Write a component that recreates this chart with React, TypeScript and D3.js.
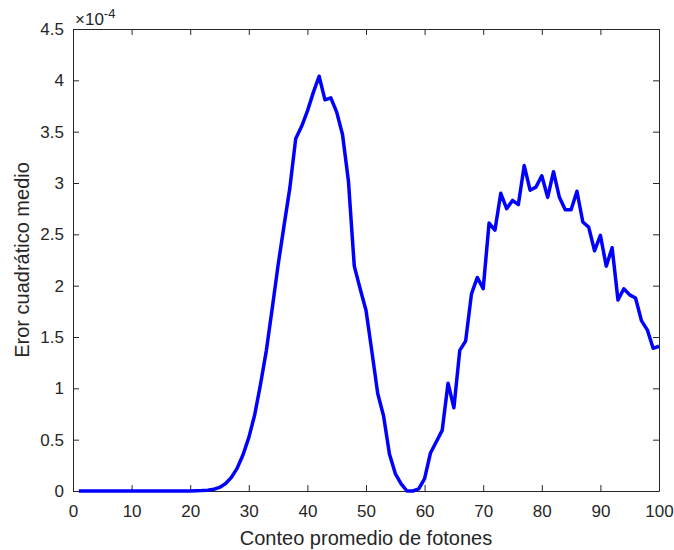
import React from 'react';
import * as d3 from 'd3';

// photon count (x) and mean squared error in units of 1e-4 (y)
const counts: number[] = d3.range(1, 101);
const errors: number[] = [
    0, 0, 0, 0, 0, 0, 0, 0, 0, 0,
    0, 0, 0, 0, 0, 0, 0, 0, 0, 0.001,
    0.002, 0.004, 0.008, 0.016, 0.035, 0.07, 0.13, 0.22, 0.35, 0.52,
    0.74, 1.04, 1.37, 1.78, 2.2, 2.58, 2.95, 3.43, 3.55, 3.7,
    3.88, 4.04, 3.81, 3.83, 3.69, 3.47, 3.02, 2.19, 1.97, 1.76,
    1.36, 0.95, 0.73, 0.36, 0.17, 0.07, 0.0, 0.0, 0.02, 0.12,
    0.37, 0.48, 0.59, 1.05, 0.81, 1.37, 1.46, 1.92, 2.08, 1.97,
    2.61, 2.54, 2.9, 2.75, 2.83, 2.79, 3.17, 2.93, 2.96, 3.07,
    2.86, 3.11, 2.86, 2.74, 2.74, 2.92, 2.62, 2.57, 2.34, 2.49,
    2.19, 2.37, 1.86, 1.97, 1.91, 1.88, 1.66, 1.57, 1.39, 1.41,
];

const xTicks: number[] = d3.range(0, 101, 10);
const yTicks: number[] = d3.range(0, 4.51, 0.5);

const xLabel = 'Conteo promedio de fotones';
const yLabel = 'Eror cuadrático medio';

const font = '"Liberation Sans", Arial, Helvetica, sans-serif';
const axisColor = '#262626';

const drawChart = (ref) => {
    const W = 674, H = 550;
    const margin = { top: 29, right: 15, bottom: 59, left: 73 };
    const width = W - margin.left - margin.right;
    const height = H - margin.top - margin.bottom;

    const root = d3.select(ref.current);
    root.selectAll('*').remove();
    root.attr('width', W).attr('height', H);

    root.append('rect').attr('width', W).attr('height', H).attr('fill', 'white');

    const svg = root.append('g')
        .attr('transform', 'translate(' + margin.left + ',' + margin.top + ')');

    const x = d3.scaleLinear().domain([0, 100]).range([0, width]);
    const y = d3.scaleLinear().domain([0, 4.5]).range([height, 0]);

    // four sided box, ticks pointing inward (matlab style)
    const xb = svg.append('g')
        .attr('transform', 'translate(0,' + height + ')')
        .call(d3.axisBottom(x).tickValues(xTicks).tickSizeInner(-6).tickSizeOuter(0).tickPadding(14).tickFormat(d3.format('d')));
    const xt = svg.append('g')
        .call(d3.axisTop(x).tickValues(xTicks).tickSizeInner(-6).tickSizeOuter(0).tickFormat(() => ''));
    const yl = svg.append('g')
        .call(d3.axisLeft(y).tickValues(yTicks).tickSizeInner(-6).tickSizeOuter(0).tickPadding(9).tickFormat(d => String(+d)));
    const yr = svg.append('g')
        .attr('transform', 'translate(' + width + ',0)')
        .call(d3.axisRight(y).tickValues(yTicks).tickSizeInner(-6).tickSizeOuter(0).tickFormat(() => ''));

    [xb, xt, yl, yr].forEach(g => {
        g.select('.domain').attr('stroke', axisColor).attr('stroke-width', 1);
        g.selectAll('.tick line').attr('stroke', axisColor);
        g.selectAll('.tick text')
            .attr('fill', axisColor)
            .style('font-family', font)
            .style('font-size', '17px');
    });

    // curve
    const pts = counts.map((c, i) => [c, errors[i]]);
    svg.append('path')
        .datum(pts)
        .attr('fill', 'none')
        .attr('stroke', '#0000ff')
        .attr('stroke-width', 3.5)
        .attr('stroke-linejoin', 'round')
        .attr('d', d3.line()
            .x(d => x(d[0]))
            .y(d => y(d[1]))
        );

    // exponent label
    const ex = svg.append('text')
        .attr('x', 2)
        .attr('y', -4)
        .attr('fill', axisColor)
        .style('font-family', font)
        .style('font-size', '17px');
    ex.append('tspan').text('\u00d710');
    ex.append('tspan').attr('dy', -7).style('font-size', '13px').text('-4');

    // axis labels
    svg.append('text')
        .attr('x', width / 2)
        .attr('y', height + 54)
        .attr('text-anchor', 'middle')
        .attr('fill', axisColor)
        .style('font-family', font)
        .style('font-size', '20px')
        .text(xLabel);

    svg.append('text')
        .attr('transform', 'translate(' + (-44) + ',' + (height / 2) + ') rotate(-90)')
        .attr('text-anchor', 'middle')
        .attr('fill', axisColor)
        .style('font-family', font)
        .style('font-size', '20px')
        .text(yLabel);
};

function App() {
    const ref = React.useRef(null);

    React.useEffect(() => {
        drawChart(ref);
    }, []);

    return (
        <div style={{ position: 'absolute', left: 0, top: 0 }}>
            <svg ref={ref} style={{ display: 'block' }} />
        </div>
    );
}

export default App;
